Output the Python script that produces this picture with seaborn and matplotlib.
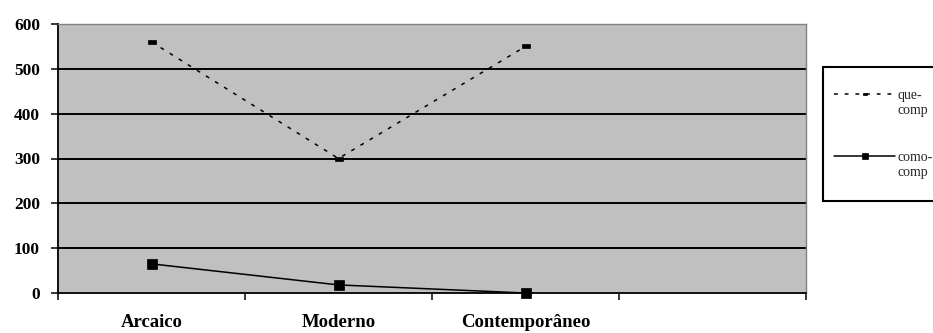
import numpy as np
import matplotlib
matplotlib.use("Agg")
import matplotlib.pyplot as plt
import seaborn as sns
from matplotlib.legend_handler import HandlerLine2D

# Periods and counts per construction
periodos = ["Arcaico", "Moderno", "Contemporâneo"]
que_comp = [560, 300, 550]
como_comp = [65, 18, 0]
rotulos = ["que-\ncomp", "como-\ncomp"]
y_ticks = [0, 100, 200, 300, 400, 500, 600]
grade = [100, 200, 300, 400, 500]

sns.set_theme(style="ticks")
plt.rcParams["font.family"] = ["Liberation Serif", "DejaVu Serif"]


class LinhaElevada(HandlerLine2D):
    """Legend handle placed beside the first line of a two-line label,
    drawn a little wider than its slot."""

    def __init__(self, dy, dx, **kw):
        super().__init__(**kw)
        self.dy = dy
        self.dx = dx

    def create_artists(self, legend, orig_handle, xdescent, ydescent,
                       width, height, fontsize, trans):
        return super().create_artists(legend, orig_handle,
                                      xdescent + self.dx,
                                      ydescent - 2 * self.dy,
                                      width + self.dx, height, fontsize,
                                      trans)


W, H = 933, 333
fig = plt.figure(figsize=(W / 100, H / 100), dpi=100)
ax = fig.add_axes([58 / W, 1 - 293 / H, (806 - 58) / W, (293 - 24) / H])
ax.set_facecolor("#c0c0c0")

x_pos = np.arange(len(periodos))
traco = [(-1, -0.5), (1, -0.5), (1, 0.5), (-1, 0.5), (-1, -0.5)]

sns.lineplot(x=x_pos, y=que_comp, ax=ax, color="black", lw=1.1,
             linestyle=(0, (2.5, 4.5)), marker=traco, markersize=5.5,
             markeredgecolor="black", markeredgewidth=0.5,
             label=rotulos[0], clip_on=False, zorder=3)
sns.lineplot(x=x_pos, y=como_comp, ax=ax, color="black", lw=1.1,
             marker="s", markersize=6.5, markeredgecolor="black",
             markeredgewidth=0.5, label=rotulos[1], clip_on=False, zorder=3)

for v in grade:
    ax.axhline(v, color="black", lw=1.4, zorder=1)

ax.set_xlim(-0.5, 3.5)
ax.set_ylim(0, 600)
ax.set_xlabel("")
ax.set_ylabel("")

ax.set_xticks(x_pos, periodos)
ax.set_xticks(np.arange(-0.5, 3.6, 1.0), minor=True)
ax.tick_params(axis="x", which="major", length=0, pad=15, labelsize=13.5)
ax.tick_params(axis="x", which="minor", length=5, width=1.1,
               color="black", direction="out")
ax.set_yticks(y_ticks)
ax.tick_params(axis="y", length=5, width=1.1, color="black",
               direction="out", pad=8, labelsize=12.5)
for lbl in ax.get_xticklabels() + ax.get_yticklabels():
    lbl.set_fontweight("bold")
    lbl.set_color("black")

for s in ("left", "bottom"):
    ax.spines[s].set_color("black")
    ax.spines[s].set_linewidth(1.3)
for s in ("top", "right"):
    ax.spines[s].set_color("#808080")
    ax.spines[s].set_linewidth(1.0)

handles, labels = ax.get_legend_handles_labels()
fs_leg = 10
elev = LinhaElevada(dy=6.9, dx=7.9)
leg = ax.legend(handles, labels, loc="upper left",
                bbox_to_anchor=(823 / W, 1 - 67 / H),
                bbox_transform=fig.transFigure, borderaxespad=0,
                fontsize=fs_leg, frameon=True, fancybox=False,
                edgecolor="black", facecolor="white", framealpha=1,
                handlelength=3.6, handletextpad=0.15, borderpad=1.6,
                labelspacing=2.5, markerscale=0.6,
                handler_map={h: elev for h in handles})
leg.get_frame().set_linewidth(1.5)
for t in leg.get_texts():
    t.set_linespacing(1.15)

fig.savefig("out.png", dpi=100)
